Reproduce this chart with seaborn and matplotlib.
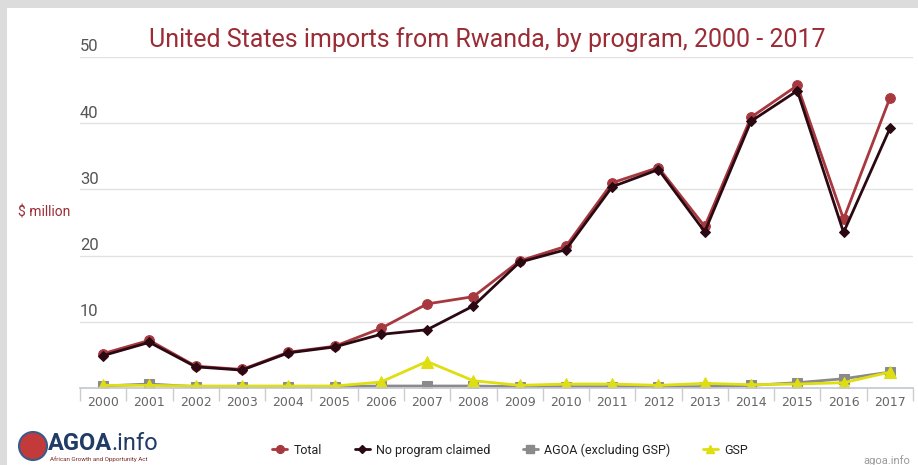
import numpy as np
import pandas as pd
import matplotlib.pyplot as plt
import matplotlib.patches as mpatches
import seaborn as sns

years = [str(y) for y in range(2000, 2018)]
total = [5.2, 7.2, 3.3, 2.8, 5.4, 6.3, 9.0, 12.7, 13.8, 19.2, 21.4, 31.0, 33.3, 24.4, 40.9, 45.7, 25.5, 43.8]
no_program = [4.9, 6.9, 3.2, 2.7, 5.3, 6.2, 8.1, 8.8, 12.4, 19.0, 20.9, 30.4, 33.0, 23.6, 40.3, 44.9, 23.5, 39.2]
agoa = [0.3, 0.6, 0.2, 0.2, 0.2, 0.2, 0.3, 0.3, 0.3, 0.2, 0.2, 0.2, 0.2, 0.2, 0.4, 0.8, 1.4, 2.4]
gsp = [0.4, 0.4, 0.3, 0.3, 0.3, 0.3, 0.9, 4.0, 1.1, 0.4, 0.6, 0.6, 0.4, 0.7, 0.5, 0.6, 0.8, 2.4]

series_names = ["Total", "No program claimed", "AGOA (excluding GSP)", "GSP"]
series_values = [total, no_program, agoa, gsp]
colors = ["#a8383f", "#2b0912", "#8a8a8a", "#dede10"]
markers = ["o", "D", "s", "^"]
msizes = [7, 5, 7, 8]

sns.set_theme(style="white")
plt.rcParams['font.family'] = ['Roboto', 'DejaVu Sans']

fig = plt.figure(figsize=(9.18, 4.65), dpi=100, facecolor="white")
# gray frame strips on top and left
fig.patches.append(mpatches.Rectangle((0, 1 - 8/465), 1, 8/465, transform=fig.transFigure,
                                      facecolor="#dcdcdc", edgecolor="none", zorder=-1))
fig.patches.append(mpatches.Rectangle((0, 0), 7/918, 1, transform=fig.transFigure,
                                      facecolor="#dcdcdc", edgecolor="none", zorder=-1))
ax = fig.add_axes([80/918, 77/465, 833/918, 331/465])
ax.set_facecolor("none")

x = np.arange(len(years))
for name, vals, c, m, ms in zip(series_names, series_values, colors, markers, msizes):
    df = pd.DataFrame({"x": x, "v": vals})
    sns.lineplot(data=df, x="x", y="v", ax=ax, color=c, marker=m, markersize=ms,
                 markeredgecolor=c, linewidth=2, label=name, legend=False)

ax.set_xlim(-0.5, 17.5)
ax.set_ylim(0, 50)
ax.set_xlabel("")
ax.set_ylabel("")

# y grid, labels above grid lines on the left
ax.set_yticks([10, 20, 30, 40, 50])
ax.yaxis.grid(True, color="#e2e2e2", linewidth=1)
ax.set_yticklabels([])
ax.tick_params(axis="y", length=0)
for v in [10, 20, 30, 40, 50]:
    ax.text(0.0, v + 0.4, str(v), transform=ax.get_yaxis_transform(), ha="left", va="bottom",
            fontsize=12, color="#555555")

# x axis categories
ax.set_xticks(x)
ax.set_xticklabels(years, fontsize=9, color="#666666", fontfamily="DejaVu Sans")
ax.set_xticks(np.arange(-0.5, 18, 1), minor=True)
ax.tick_params(axis="x", which="major", length=0, pad=6)
ax.tick_params(axis="x", which="minor", length=9, color="#cccccc", width=1, bottom=True)
for s in ["top", "right", "left"]:
    ax.spines[s].set_visible(False)
ax.spines["bottom"].set_color("#c4c8d4")

fig.text(487/918, 1 - 40/465, "United States imports from Rwanda, by program, 2000 - 2017",
         ha="center", va="center", fontsize=18, color="#9b2c35")
fig.text(18/918, 1 - 213/465, "$ million", ha="left", va="center", fontsize=10, color="#9b2c35")

# legend
handles = [plt.Line2D([], [], color=c, marker=m, markersize=ms * 0.8, linewidth=2)
           for c, m, ms in zip(colors, markers, msizes)]
fig.legend(handles, series_names, loc="center", bbox_to_anchor=(510/918, 1 - 450/465),
           ncol=4, frameon=False, fontsize=9, handlelength=1.2, handletextpad=0.5,
           columnspacing=2.6, labelcolor="#222222")

# logo
fig.patches.append(mpatches.Ellipse((33/918, 1 - 446/465), 28/918, 28/465, transform=fig.transFigure,
                                    facecolor="#c23a3a", edgecolor="#3a5a8a", linewidth=1.5))
fig.text(48/918, 1 - 443/465, "AGOA", ha="left", va="center", fontsize=17,
         fontweight="bold", color="#1f3b66")
fig.text(111/918, 1 - 443/465, ".info", ha="left", va="center", fontsize=17,
         color="#1f3b66")
fig.text(50/918, 1 - 459/465, "African Growth and Opportunity Act", ha="left", va="center",
         fontsize=4.5, color="#7a2a2a")
fig.text(910/918, 1 - 461/465, "agoa.info", ha="right", va="center", fontsize=8, color="#999999")

fig.savefig("out.png", dpi=100, facecolor=fig.get_facecolor())
